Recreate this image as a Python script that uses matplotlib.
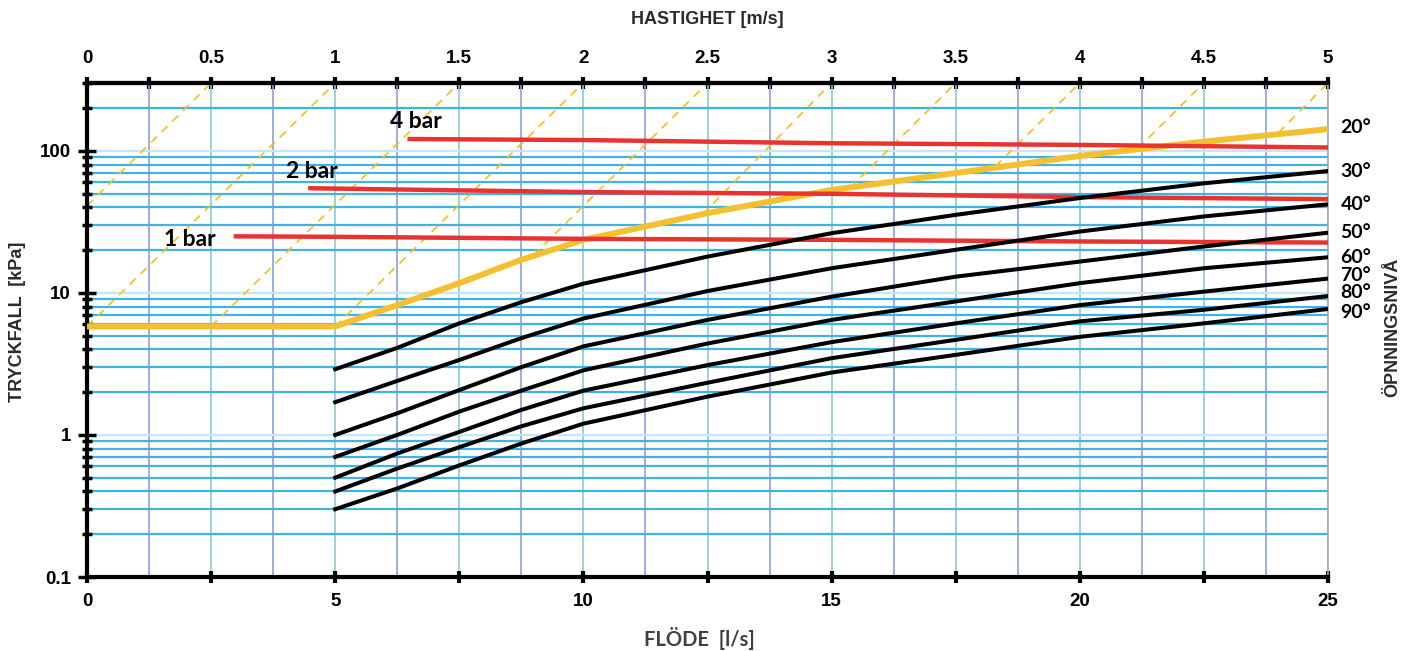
import matplotlib
matplotlib.use('Agg')
import matplotlib.pyplot as plt
from matplotlib.ticker import LogLocator, NullFormatter

# flow [l/s] at which the opening curves were read
flow = [5, 6.25, 7.5, 8.75, 10, 12.5, 15, 17.5, 20, 22.5, 25]
angles = ['30°', '40°', '50°', '60°', '70°', '80°', '90°']
dp_30 = [2.9, 4.1, 6.1, 8.6, 11.6, 18.0, 26.3, 35.4, 46.5, 59, 72]
dp_40 = [1.7, 2.4, 3.37, 4.8, 6.6, 10.3, 14.9, 20.1, 27, 34.5, 42]
dp_50 = [1.0, 1.42, 2.07, 3.0, 4.2, 6.45, 9.4, 13.0, 16.6, 21.2, 26.5]
dp_60 = [0.70, 1.0, 1.46, 2.05, 2.85, 4.4, 6.45, 8.7, 11.7, 14.9, 17.8]
dp_70 = [0.50, 0.74, 1.05, 1.5, 2.05, 3.1, 4.5, 6.1, 8.2, 10.2, 12.6]
dp_80 = [0.40, 0.58, 0.82, 1.15, 1.54, 2.33, 3.47, 4.67, 6.3, 7.6, 9.5]
dp_90 = [0.30, 0.42, 0.61, 0.87, 1.2, 1.86, 2.75, 3.66, 4.9, 6.1, 7.7]

# 20 degree curve (yellow)
flow_20 = [0, 5, 6.25, 7.5, 8.75, 10, 12.5, 15, 17.5, 20, 22.5, 25]
dp_20 = [5.8, 5.8, 8.2, 11.7, 17.1, 23.6, 36.4, 53, 69.7, 92, 116, 142]

# inlet pressure lines
bar1_x = [3, 5, 10, 15, 20, 25]
bar1_y = [25.0, 24.8, 24.0, 23.6, 23.0, 22.6]
bar2_x = [4.5, 10, 15, 20, 25]
bar2_y = [54.5, 51.2, 49.8, 47.2, 45.7]
bar4_x = [6.5, 10, 15, 20, 25]
bar4_y = [121, 119, 113, 110, 105.5]

# dashed helper lines (start / end)
dash_x0 = [0, 0, 2.5, 5, 9.0, 12.4, 15.37, 18.3, 21.17, 24.0]
dash_y0 = [41, 5.8, 5.8, 5.8, 18.5, 35.7, 54.8, 77.7, 104, 134]
dash_x1 = [2.5, 5, 7.5, 10, 12.5, 15, 17.5, 20, 22.5, 25]
dash_y1 = [300] * 10

flow_ticks = [0, 2.5, 5, 7.5, 10, 12.5, 15, 17.5, 20, 22.5, 25]
flow_labels = ['0', '', '5', '', '10', '', '15', '', '20', '', '25']
speed_ticks = [0, 0.5, 1, 1.5, 2, 2.5, 3, 3.5, 4, 4.5, 5]
speed_labels = ['0', '0.5', '1', '1.5', '2', '2.5', '3', '3.5', '4', '4.5', '5']

fig = plt.figure(figsize=(14.07, 6.51), dpi=100)
ax = fig.add_axes([87 / 1407, 1 - 577 / 651, (1328 - 87) / 1407, (577 - 83) / 651])
ax.set_yscale('log')
ax.set_xlim(0, 25)
ax.set_ylim(0.1, 300)

tick_font = {'family': 'Liberation Sans', 'weight': 'bold', 'size': 13.5}

# grid
ax.set_xticks(flow_ticks, flow_labels)
ax.set_xticks([1.25, 3.75, 6.25, 8.75, 11.25, 13.75, 16.25, 18.75, 21.25, 23.75], minor=True)
ax.yaxis.set_minor_locator(LogLocator(base=10, subs=range(2, 10), numticks=20))
ax.yaxis.set_minor_formatter(NullFormatter())
ax.set_yticks([0.1, 1, 10, 100], ['0.1', '1', '10', '100'])
ax.grid(axis='x', which='major', color='#86ccd6', lw=1.2, zorder=0)
ax.grid(axis='x', which='minor', color='#8c9fd8', lw=1.2, zorder=0)
ax.grid(axis='y', which='major', color='#c9e4f4', lw=1.6, zorder=0)
ax.grid(axis='y', which='minor', color='#3fb3e6', lw=1.6, zorder=0)
ax.set_axisbelow(True)

for i in range(len(dash_x0)):
    ax.plot([dash_x0[i], dash_x1[i]], [dash_y0[i], dash_y1[i]], color='#f7bd1e',
            lw=1.2, dashes=(5, 4), zorder=2)

ax.plot(flow_20, dp_20, color='#f5c02f', lw=4.3, solid_capstyle='butt', zorder=3)

for xs, ys in [(bar1_x, bar1_y), (bar2_x, bar2_y), (bar4_x, bar4_y)]:
    ax.plot(xs, ys, color='#e83330', lw=3.2, zorder=4)

curves = [dp_30, dp_40, dp_50, dp_60, dp_70, dp_80, dp_90]
for c in curves:
    ax.plot(flow, c, color='black', lw=2.9, zorder=5)

lab_font = {'family': 'Lato', 'weight': 'bold', 'size': 14}
# small vertical nudges so the tight 70/80/90 labels stay readable
nudge = [0, 0, 0, 0, 2, 2.5, -2.5]
ax.annotate('20°', (25, dp_20[-1]), xytext=(9, 1), textcoords='offset points',
            va='center', ha='left', annotation_clip=False, **lab_font)
for name, c, dy in zip(angles, curves, nudge):
    ax.annotate(name, (25, c[-1]), xytext=(9, dy), textcoords='offset points',
                va='center', ha='left', annotation_clip=False, **lab_font)

bar_font = {'family': 'Lato', 'weight': 'bold', 'size': 16.5}
ax.text(6.1, 160, '4 bar', va='center', ha='left', **bar_font)
ax.text(4.0, 71, '2 bar', va='center', ha='left', **bar_font)
ax.text(1.55, 23.8, '1 bar', va='center', ha='left', **bar_font)

# spines and ticks
for s in ['left', 'top', 'bottom']:
    ax.spines[s].set_linewidth(3)
    ax.spines[s].set_color('black')
ax.spines['right'].set_linewidth(1.2)
ax.spines['right'].set_color('#a8a8a8')
ax.tick_params(axis='x', which='major', direction='inout', length=9, width=3, pad=7)
ax.tick_params(axis='x', which='minor', length=0)
ax.tick_params(axis='y', which='major', direction='inout', length=13, width=2.5, pad=5)
ax.tick_params(axis='y', which='minor', direction='inout', length=7, width=2.5)
for lab in ax.get_xticklabels() + ax.get_yticklabels():
    lab.set(**tick_font)

sec = ax.secondary_xaxis('top', functions=(lambda q: q / 5, lambda v: v * 5))
sec.set_xticks(speed_ticks, speed_labels)
sec.set_xticks([0.25, 0.75, 1.25, 1.75, 2.25, 2.75, 3.25, 3.75, 4.25, 4.75], minor=True)
sec.tick_params(axis='x', which='both', direction='inout', length=9, width=3, pad=7)
sec.spines['top'].set_linewidth(3)
for lab in sec.get_xticklabels():
    lab.set(**tick_font)

ttl = {'family': 'Liberation Sans', 'weight': 'bold', 'size': 13, 'color': '#2b2b2b'}
fig.text(707 / 1407, 1 - 20 / 651, 'HASTIGHET [m/s]', ha='center', va='center', **ttl)
fig.text(18 / 1407, 1 - 322 / 651, 'TRYCKFALL  [kPa]', ha='center', va='center', rotation=90, **ttl)
fig.text(1393 / 1407, 1 - 327 / 651, 'ÖPNNINGSNIVÅ', ha='center', va='center', rotation=90, **ttl)
fig.text(699 / 1407, 1 - 638 / 651, 'FLÖDE  [l/s]', ha='center', va='center',
         family='Lato', weight='bold', size=14.5, color='#404040')

fig.savefig('out.png', dpi=100)
